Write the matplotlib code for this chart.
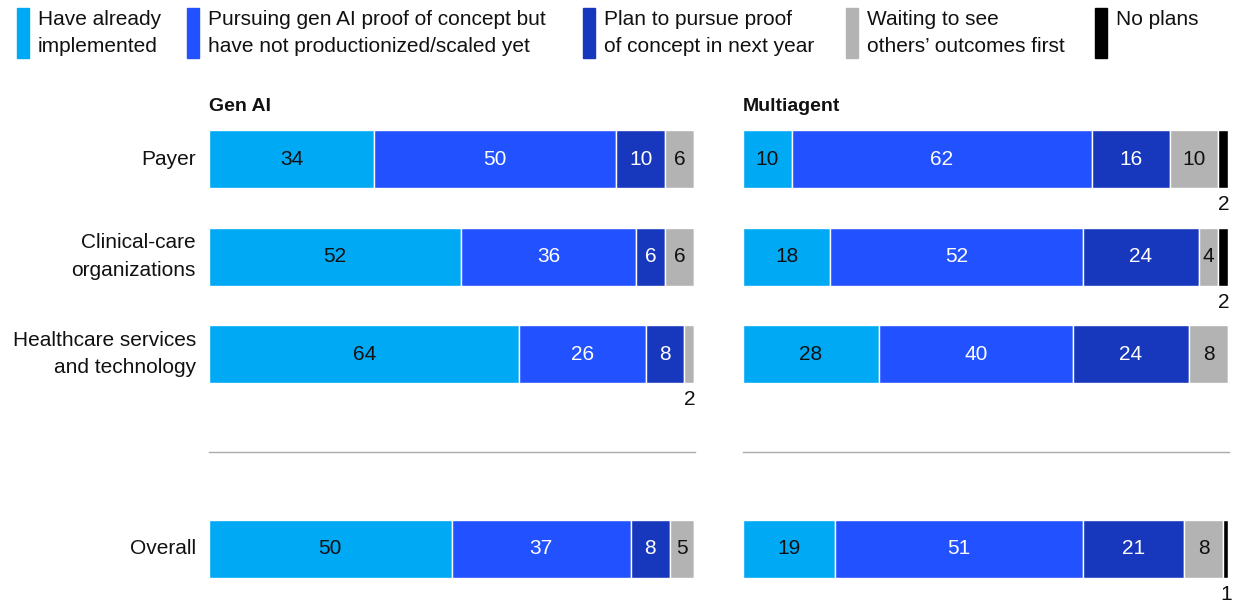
import matplotlib
matplotlib.use("Agg")
import matplotlib.pyplot as plt
import numpy as np

plt.rcParams['font.family'] = ['Liberation Sans', 'DejaVu Sans']

categories = ["Payer", "Clinical-care\norganizations", "Healthcare services\nand technology", "Overall"]
row_pos = [0, 1, 2, 4]
series_names = ["Have already\nimplemented",
                "Pursuing gen AI proof of concept but\nhave not productionized/scaled yet",
                "Plan to pursue proof\nof concept in next year",
                "Waiting to see\nothers\u2019 outcomes first",
                "No plans"]
colors = ["#00A9F4", "#2251FF", "#1737BD", "#B3B3B3", "#000000"]
text_colors = ["#111111", "white", "white", "#111111", "#111111"]

gen_ai = {
    "Have already": [34, 52, 64, 50],
    "Pursuing": [50, 36, 26, 37],
    "Plan": [10, 6, 8, 8],
    "Waiting": [6, 6, 2, 5],
    "No plans": [0, 0, 0, 0],
}
multiagent = {
    "Have already": [10, 18, 28, 19],
    "Pursuing": [62, 52, 40, 51],
    "Plan": [16, 24, 24, 21],
    "Waiting": [10, 4, 8, 8],
    "No plans": [2, 2, 0, 1],
}
panel_titles = ["Gen AI", "Multiagent"]

W, H = 1242, 605
fig = plt.figure(figsize=(W / 100, H / 100), dpi=100)

FS = 15
row_px = 97.5
y0_px = 159
top_lim, bot_lim = -0.7, 4.5
ax_top = y0_px + top_lim * row_px
ax_bot = y0_px + bot_lim * row_px
panels_x = [(209, 694), (743, 1228)]
bar_h = 58 / row_px

for p, (data, title) in enumerate(zip([gen_ai, multiagent], panel_titles)):
    x0, x1 = panels_x[p]
    ax = fig.add_axes([x0 / W, 1 - ax_bot / H, (x1 - x0) / W, (ax_bot - ax_top) / H])
    ax.set_xlim(0, 100)
    ax.set_ylim(bot_lim, top_lim)
    ax.axis('off')
    keys = list(data.keys())
    left = np.zeros(len(categories))
    for k, key in enumerate(keys):
        vals = np.array(data[key], dtype=float)
        ax.barh(row_pos, vals, left=left, height=bar_h, color=colors[k],
                edgecolor='white', linewidth=1.0)
        for i, v in enumerate(vals):
            if v <= 0:
                continue
            cx = left[i] + v / 2
            if v > 2:
                ax.text(cx, row_pos[i], f"{int(v)}", ha='center', va='center',
                        fontsize=FS, color=text_colors[k])
            else:
                ax.text(cx + 0.2, row_pos[i] + 0.47, f"{int(v)}", ha='center', va='center',
                        fontsize=FS, color="#111111")
        left += vals
    ax.text(0, -0.54, title, ha='left', va='center', fontsize=14, fontweight='bold',
            color='#111111')
    ax.plot([0, 100.2], [3, 3], color='#AAAAAA', linewidth=1.0, clip_on=False)

# category labels
for cat, rp in zip(categories, row_pos):
    ypx = y0_px + rp * row_px
    fig.text(196 / W, 1 - ypx / H, cat, ha='right', va='center', fontsize=FS,
             color='#111111', linespacing=1.55)

# legend
leg_x = [17, 187, 583, 846, 1095]
for k, name in enumerate(series_names):
    x = leg_x[k]
    fig.patches.append(plt.Rectangle((x / W, 1 - 58 / H), 12 / W, 50 / H,
                                     transform=fig.transFigure, color=colors[k]))
    fig.text((x + 21) / W, 1 - 10 / H, name, ha='left', va='top', fontsize=FS,
             color='#111111', linespacing=1.55)

fig.savefig("out.png", dpi=100)
